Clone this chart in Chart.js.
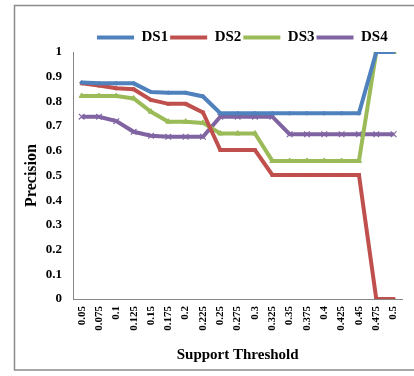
<!DOCTYPE html>
<html>
<head>
<meta charset="utf-8">
<script src="https://cdn.jsdelivr.net/npm/chart.js@4/dist/chart.umd.min.js"></script>
<style>
  html, body { margin: 0; padding: 0; background: #ffffff; }
  #wrap { width: 414px; height: 376px; position: relative; }
</style>
</head>
<body>
<div id="wrap"><canvas id="c" width="414" height="376"></canvas></div>
<script>
const categories = ['0.05','0.075','0.1','0.125','0.15','0.175','0.2','0.225','0.25','0.275','0.3','0.325','0.35','0.375','0.4','0.425','0.45','0.475','0.5'];
const seriesNames = ['DS1','DS2','DS3','DS4'];
const ds1 = [0.877,0.873,0.873,0.873,0.838,0.835,0.835,0.82,0.752,0.752,0.752,0.752,0.752,0.752,0.752,0.752,0.752,1,1];
const ds2 = [0.873,0.864,0.853,0.849,0.806,0.79,0.79,0.755,0.603,0.603,0.603,0.502,0.502,0.502,0.502,0.502,0.502,0,0];
const ds3 = [0.822,0.822,0.822,0.812,0.758,0.718,0.718,0.713,0.67,0.67,0.67,0.559,0.559,0.559,0.559,0.559,0.559,1,1];
const ds4 = [0.738,0.738,0.72,0.677,0.661,0.657,0.657,0.657,0.738,0.738,0.738,0.738,0.667,0.667,0.667,0.667,0.667,0.667,0.667];
const yTicks = [0,0.1,0.2,0.3,0.4,0.5,0.6,0.7,0.8,0.9,1];

const colors = ['#4F81BD','#C0504D','#9BBB59','#8064A2'];
const pointStyles = ['rectRot','rect','triangle','crossRot'];
const pointRadii = [2,2,3,4];
const serif = "'Liberation Serif', 'Times New Roman', serif";

const frame = {
  id: 'frame',
  beforeDraw(chart) {
    const ctx = chart.ctx;
    ctx.save();
    ctx.fillStyle = '#ffffff';
    ctx.fillRect(0, 0, chart.width, chart.height);
    ctx.strokeStyle = '#8a8a8a';
    ctx.lineWidth = 1.5;
    ctx.strokeRect(14.5, 5.5, 430, 364.5);
    ctx.restore();
  }
};

const legendShift = {
  id: 'legendShift',
  afterLayout(chart) {
    const lg = chart.legend;
    if (!lg) return;
    const pad = lg.options.labels.padding;
    const dx = (97 - pad) - lg.left;
    lg.left += dx; lg.right += dx;
    const dy = 28 - lg.top;
    lg.top += dy; lg.bottom += dy;
  }
};

const datasets = [ds1, ds2, ds3, ds4].map((d, i) => ({
  label: seriesNames[i],
  data: d,
  borderColor: colors[i],
  backgroundColor: colors[i],
  borderWidth: 4,
  tension: 0,
  pointStyle: pointStyles[i],
  pointRadius: pointRadii[i],
  pointBorderWidth: i === 3 ? 1.2 : 1,
  pointBackgroundColor: colors[i],
  pointBorderColor: colors[i]
}));

new Chart(document.getElementById('c'), {
  type: 'line',
  data: { labels: categories, datasets },
  options: {
    responsive: false,
    animation: false,
    devicePixelRatio: 1,
    layout: { padding: { left: 14, right: 7, top: 25, bottom: 12 } },
    plugins: {
      tooltip: { enabled: false },
      legend: {
        position: 'top',
        align: 'start',
        labels: {
          boxWidth: 37,
          boxHeight: 4,
          padding: 2,
          color: '#000000',
          font: { family: serif, size: 15, weight: 'bold' },
          generateLabels(chart) {
            return chart.data.datasets.map((ds, i) => ({
              text: ds.label,
              fillStyle: ds.borderColor,
              strokeStyle: ds.borderColor,
              lineWidth: 0,
              datasetIndex: i,
              fontColor: '#000000'
            }));
          }
        }
      }
    },
    scales: {
      x: {
        offset: true,
        grid: { display: false, drawTicks: false },
        border: { display: true, color: '#868686', width: 1 },
        ticks: {
          color: '#000000',
          font: { family: serif, size: 11, weight: 'bold' },
          minRotation: 90,
          maxRotation: 90,
          padding: 7,
          autoSkip: false
        },
        title: {
          display: true,
          text: 'Support Threshold',
          color: '#000000',
          font: { family: serif, size: 15, weight: 'bold' },
          padding: { top: 4, bottom: 0 }
        },
        afterFit(scale) { scale.height = 65; }
      },
      y: {
        min: 0,
        max: 1,
        grid: { display: false, drawTicks: false },
        border: { display: true, color: '#868686', width: 1 },
        afterBuildTicks(scale) { scale.ticks = yTicks.map(v => ({ value: v })); },
        ticks: {
          color: '#000000',
          font: { family: serif, size: 13, weight: 'bold' },
          padding: 11,
          callback: (v) => String(Math.round(v * 10) / 10)
        },
        title: {
          display: true,
          text: 'Precision',
          color: '#000000',
          font: { family: serif, size: 16, weight: 'bold' },
          padding: { top: 8, bottom: 0 }
        },
        afterFit(scale) { scale.width = 59; }
      }
    }
  },
  plugins: [frame, legendShift]
});
</script>
</body>
</html>
